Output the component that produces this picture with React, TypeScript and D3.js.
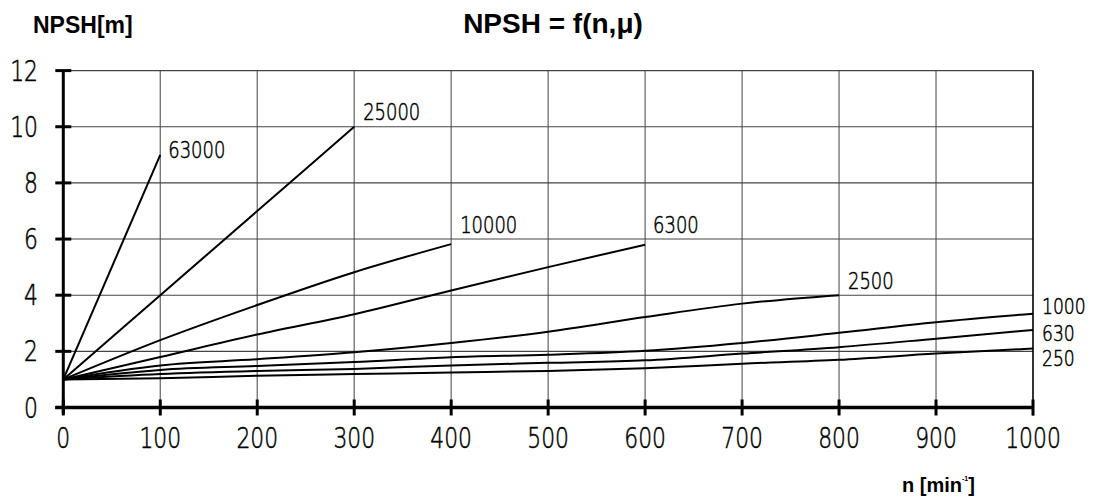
import React from "react";
import * as d3 from "d3";

const xTicks = [0, 100, 200, 300, 400, 500, 600, 700, 800, 900, 1000];
const yTicks = [0, 2, 4, 6, 8, 10, 12];

const nValues = [0, 100, 200, 300, 400, 500, 600, 700, 800, 900, 1000];
const s63000 = [1, 9];
const s25000 = [1, 4, 7, 10];
const s10000 = [1, 2.4, 3.65, 4.82, 5.82];
const s6300 = [1, 1.8, 2.6, 3.32, 4.17, 5.0, 5.8];
const s2500 = [1, 1.5, 1.72, 1.97, 2.3, 2.7, 3.22, 3.7, 4.0];
const s1000 = [1, 1.34, 1.48, 1.62, 1.79, 1.88, 2.02, 2.3, 2.66, 3.04, 3.34];
const s630 = [1, 1.19, 1.3, 1.37, 1.5, 1.59, 1.68, 1.92, 2.15, 2.45, 2.76];
const s250 = [1, 1.04, 1.13, 1.19, 1.25, 1.3, 1.4, 1.56, 1.7, 1.92, 2.1];

const seriesNames = ["63000", "25000", "10000", "6300", "2500", "1000", "630", "250"];
const seriesValues = [s63000, s25000, s10000, s6300, s2500, s1000, s630, s250];
const labelOffsets: [number, number][] = [
  [8, 3],
  [9, -7],
  [9, -11],
  [8, -12],
  [9, -6],
  [9, 0],
  [9, 11],
  [9, 17],
];

const W = 1098;
const H = 502;

const thinFont = "'DejaVu Sans', 'DejaVu Sans Condensed', sans-serif";
const boldFont = "'Liberation Sans', Arial, sans-serif";

function Thin(props: { x: number; y: number; size: number; anchor?: string; children: React.ReactNode }) {
  return (
    <text
      transform={`translate(${props.x},${props.y}) scale(0.78,1)`}
      textAnchor={props.anchor || "start"}
      fontFamily={thinFont}
      fontWeight={200}
      fontSize={props.size}
      fill="#000"
      stroke="#000"
      strokeWidth={0.55}
    >
      {props.children}
    </text>
  );
}

export default function App() {
  const x = d3.scaleLinear().domain([0, 1000]).range([63.3, 1033]);
  const y = d3.scaleLinear().domain([0, 12]).range([407.5, 70.6]);
  const line = d3
    .line<[number, number]>()
    .x((d) => x(d[0]))
    .y((d) => y(d[1]))
    .curve(d3.curveMonotoneX);

  return (
    <div style={{ position: "fixed", left: 0, top: 0 }}>
      <svg width={W} height={H} viewBox={`0 0 ${W} ${H}`} style={{ display: "block", background: "#fff" }}>
        {/* grid */}
        {xTicks.slice(1, -1).map((t) => (
          <line key={"gx" + t} x1={x(t)} x2={x(t)} y1={y(12)} y2={y(0)} stroke="#6e6e6e" strokeWidth={1.3} />
        ))}
        {yTicks.slice(1).map((t) => (
          <line key={"gy" + t} x1={x(0)} x2={x(1000)} y1={y(t)} y2={y(t)} stroke="#444" strokeWidth={1.1} />
        ))}
        <line x1={x(1000)} x2={x(1000)} y1={y(12)} y2={y(0) + 8} stroke="#000" strokeWidth={1.6} />

        {/* curves */}
        {seriesValues.map((vals, i) => {
          const pts: [number, number][] = vals.map((v, j) => [nValues[j], v]);
          return (
            <path key={"s" + i} d={line(pts) || ""} fill="none" stroke="#000" strokeWidth={2} strokeLinejoin="round" />
          );
        })}

        {/* curve labels */}
        {seriesValues.map((vals, i) => {
          const last = vals.length - 1;
          return (
            <Thin
              key={"l" + i}
              x={x(nValues[last]) + labelOffsets[i][0]}
              y={y(vals[last]) + labelOffsets[i][1]}
              size={i >= 5 ? 22 : 23}
            >
              {seriesNames[i]}
            </Thin>
          );
        })}

        {/* axes */}
        <line x1={x(0)} x2={x(0)} y1={y(12)} y2={y(0) + 6} stroke="#000" strokeWidth={3} />
        <line x1={x(0) - 8} x2={x(1000)} y1={y(0)} y2={y(0)} stroke="#000" strokeWidth={3.5} />
        {yTicks.map((t) => (
          <line key={"ty" + t} x1={x(0) - 8} x2={x(0) + 8} y1={y(t)} y2={y(t)} stroke="#000" strokeWidth={3} />
        ))}
        {xTicks.map((t) => (
          <line key={"tx" + t} x1={x(t)} x2={x(t)} y1={y(0) - 8} y2={y(0) + 8} stroke="#000" strokeWidth={3} />
        ))}

        {/* tick labels */}
        {yTicks.map((t) => (
          <Thin key={"yl" + t} x={38} y={y(t) + 10} size={28} anchor="end">
            {t}
          </Thin>
        ))}
        {xTicks.map((t) => (
          <Thin key={"xl" + t} x={x(t)} y={448} size={28} anchor="middle">
            {t}
          </Thin>
        ))}

        {/* titles */}
        <text x={553} y={32.5} textAnchor="middle" fontFamily={boldFont} fontWeight="bold" fontSize={28} fill="#000">
          NPSH = f(n,μ)
        </text>
        <text x={33} y={32.5} fontFamily={boldFont} fontWeight="bold" fontSize={23} fill="#000">
          NPSH[m]
        </text>
        <text x={902} y={491.5} fontFamily={boldFont} fontWeight="bold" fontSize={20} fill="#000">
          n [min
          <tspan fontSize={7} dy={-11}>-1</tspan>
          <tspan dy={11}>]</tspan>
        </text>
      </svg>
    </div>
  );
}
